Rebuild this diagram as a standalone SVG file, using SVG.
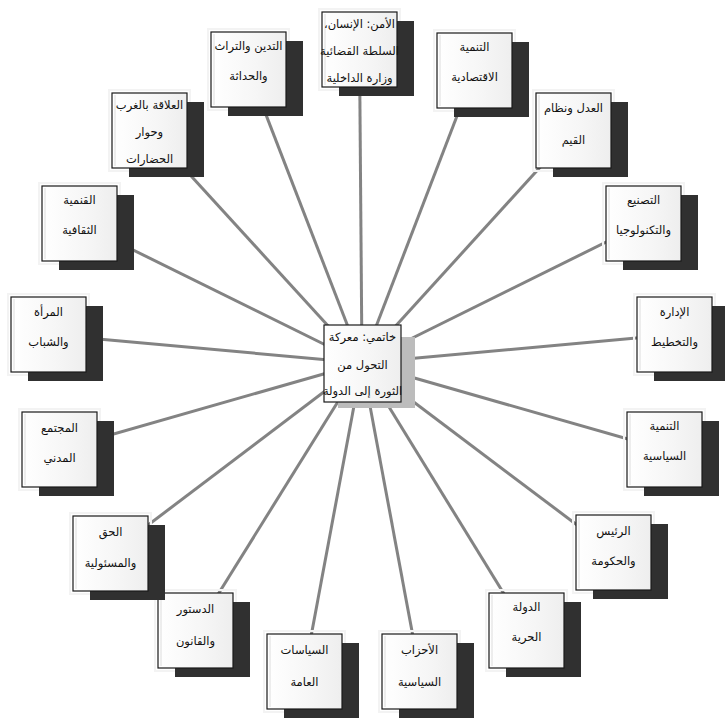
<svg xmlns="http://www.w3.org/2000/svg" width="725" height="718" viewBox="0 0 725 718">
<defs>
<linearGradient id="boxfill" x1="0" y1="0" x2="1" y2="0">
<stop offset="0" stop-color="#ffffff"/>
<stop offset="0.6" stop-color="#f6f6f6"/>
<stop offset="1" stop-color="#eeeeee"/>
</linearGradient>
<style>
.bg{fill:#ffffff}
.conn line{stroke:#838383;stroke-width:3;stroke-linecap:butt}
.glow{fill:none;stroke:#f3f3f3;stroke-width:2}
.shadow{fill:#303030}
.box{fill:url(#boxfill);stroke:#1a1a1a;stroke-width:1.2}
.inner{fill:none;stroke:#dcdcdc;stroke-width:1}
.cshadow{fill:#bcbcbc}
text{font-family:"DejaVu Sans","Noto Sans",sans-serif;font-size:11.5px;fill:#111;text-anchor:middle;direction:rtl;unicode-bidi:embed}
</style>
</defs>
<rect class="bg" x="0" y="0" width="725" height="718"/>
<g id="connectors" class="conn">
<line x1="362" y1="363" x2="149.5" y2="130.5"/>
<line x1="362" y1="363" x2="248.5" y2="69.5"/>
<line x1="362" y1="363" x2="359.5" y2="49.5"/>
<line x1="362" y1="363" x2="474.5" y2="70.5"/>
<line x1="362" y1="363" x2="573.5" y2="130.5"/>
<line x1="362" y1="363" x2="643.5" y2="223.5"/>
<line x1="362" y1="363" x2="674.5" y2="334.5"/>
<line x1="362" y1="363" x2="664.5" y2="449.5"/>
<line x1="362" y1="363" x2="613.5" y2="552.5"/>
<line x1="362" y1="363" x2="526.5" y2="630.5"/>
<line x1="362" y1="363" x2="419.5" y2="671.5"/>
<line x1="362" y1="363" x2="304.5" y2="671.5"/>
<line x1="362" y1="363" x2="195.5" y2="630.5"/>
<line x1="362" y1="363" x2="110.5" y2="553.5"/>
<line x1="362" y1="363" x2="59.5" y2="449.5"/>
<line x1="362" y1="363" x2="48.5" y2="334.5"/>
<line x1="362" y1="363" x2="79.5" y2="223.5"/>
</g>

<g id="n1" transform="translate(112,93)">
<rect class="glow" x="-3" y="-3" width="81" height="81"/>
<rect class="shadow" x="17" y="9" width="75" height="75"/>
<rect class="box" x="0" y="0" width="75" height="75"/>
<line class="inner" x1="3" y1="2" x2="3" y2="73"/>
<text x="37.5" y="16">العلاقة بالغرب</text>
<text x="37.5" y="43">وحوار</text>
<text x="37.5" y="70">الحضارات</text>
</g>
<g id="n2" transform="translate(211,32)">
<rect class="glow" x="-3" y="-3" width="81" height="81"/>
<rect class="shadow" x="17" y="9" width="75" height="75"/>
<rect class="box" x="0" y="0" width="75" height="75"/>
<line class="inner" x1="3" y1="2" x2="3" y2="73"/>
<text x="37.5" y="18">التدين والتراث</text>
<text x="37.5" y="48">والحداثة</text>
</g>
<g id="n3" transform="translate(322,12)">
<rect class="glow" x="-3" y="-3" width="81" height="81"/>
<rect class="shadow" x="17" y="9" width="75" height="75"/>
<rect class="box" x="0" y="0" width="75" height="75"/>
<line class="inner" x1="3" y1="2" x2="3" y2="73"/>
<text x="37.5" y="16">الأمن: الإنسان،</text>
<text x="37.5" y="43">السلطة القضائية</text>
<text x="37.5" y="70">وزارة الداخلية</text>
</g>
<g id="n4" transform="translate(437,33)">
<rect class="glow" x="-3" y="-3" width="81" height="81"/>
<rect class="shadow" x="17" y="9" width="75" height="75"/>
<rect class="box" x="0" y="0" width="75" height="75"/>
<line class="inner" x1="3" y1="2" x2="3" y2="73"/>
<text x="37.5" y="18">التنمية</text>
<text x="37.5" y="48">الاقتصادية</text>
</g>
<g id="n5" transform="translate(536,93)">
<rect class="glow" x="-3" y="-3" width="81" height="81"/>
<rect class="shadow" x="17" y="9" width="75" height="75"/>
<rect class="box" x="0" y="0" width="75" height="75"/>
<line class="inner" x1="3" y1="2" x2="3" y2="73"/>
<text x="37.5" y="19">العدل ونظام</text>
<text x="37.5" y="51">القيم</text>
</g>
<g id="n6" transform="translate(606,186)">
<rect class="glow" x="-3" y="-3" width="81" height="81"/>
<rect class="shadow" x="17" y="9" width="75" height="75"/>
<rect class="box" x="0" y="0" width="75" height="75"/>
<line class="inner" x1="3" y1="2" x2="3" y2="73"/>
<text x="37.5" y="18">التصنيع</text>
<text x="37.5" y="48">والتكنولوجيا</text>
</g>
<g id="n7" transform="translate(637,297)">
<rect class="glow" x="-3" y="-3" width="81" height="81"/>
<rect class="shadow" x="17" y="9" width="75" height="75"/>
<rect class="box" x="0" y="0" width="75" height="75"/>
<line class="inner" x1="3" y1="2" x2="3" y2="73"/>
<text x="37.5" y="19">الإدارة</text>
<text x="37.5" y="49">والتخطيط</text>
</g>
<g id="n8" transform="translate(627,412)">
<rect class="glow" x="-3" y="-3" width="81" height="81"/>
<rect class="shadow" x="17" y="9" width="75" height="75"/>
<rect class="box" x="0" y="0" width="75" height="75"/>
<line class="inner" x1="3" y1="2" x2="3" y2="73"/>
<text x="37.5" y="18">التنمية</text>
<text x="37.5" y="48">السياسية</text>
</g>
<g id="n9" transform="translate(576,515)">
<rect class="glow" x="-3" y="-3" width="81" height="81"/>
<rect class="shadow" x="17" y="9" width="75" height="75"/>
<rect class="box" x="0" y="0" width="75" height="75"/>
<line class="inner" x1="3" y1="2" x2="3" y2="73"/>
<text x="37.5" y="20">الرئيس</text>
<text x="37.5" y="50">والحكومة</text>
</g>
<g id="n10" transform="translate(489,593)">
<rect class="glow" x="-3" y="-3" width="81" height="81"/>
<rect class="shadow" x="17" y="9" width="75" height="75"/>
<rect class="box" x="0" y="0" width="75" height="75"/>
<line class="inner" x1="3" y1="2" x2="3" y2="73"/>
<text x="37.5" y="18">الدولة</text>
<text x="37.5" y="48">الحرية</text>
</g>
<g id="n11" transform="translate(382,634)">
<rect class="glow" x="-3" y="-3" width="81" height="81"/>
<rect class="shadow" x="17" y="9" width="75" height="75"/>
<rect class="box" x="0" y="0" width="75" height="75"/>
<line class="inner" x1="3" y1="2" x2="3" y2="73"/>
<text x="37.5" y="20">الأحزاب</text>
<text x="37.5" y="52">السياسية</text>
</g>
<g id="n12" transform="translate(267,634)">
<rect class="glow" x="-3" y="-3" width="81" height="81"/>
<rect class="shadow" x="17" y="9" width="75" height="75"/>
<rect class="box" x="0" y="0" width="75" height="75"/>
<line class="inner" x1="3" y1="2" x2="3" y2="73"/>
<text x="37.5" y="20">السياسات</text>
<text x="37.5" y="52">العامة</text>
</g>
<g id="n13" transform="translate(158,593)">
<rect class="glow" x="-3" y="-3" width="81" height="81"/>
<rect class="shadow" x="17" y="9" width="75" height="75"/>
<rect class="box" x="0" y="0" width="75" height="75"/>
<line class="inner" x1="3" y1="2" x2="3" y2="73"/>
<text x="37.5" y="20">الدستور</text>
<text x="37.5" y="52">والقانون</text>
</g>
<g id="n14" transform="translate(73,516)">
<rect class="glow" x="-3" y="-3" width="81" height="81"/>
<rect class="shadow" x="17" y="9" width="75" height="75"/>
<rect class="box" x="0" y="0" width="75" height="75"/>
<line class="inner" x1="3" y1="2" x2="3" y2="73"/>
<text x="37.5" y="20">الحق</text>
<text x="37.5" y="51">والمسئولية</text>
</g>
<g id="n15" transform="translate(22,412)">
<rect class="glow" x="-3" y="-3" width="81" height="81"/>
<rect class="shadow" x="17" y="9" width="75" height="75"/>
<rect class="box" x="0" y="0" width="75" height="75"/>
<line class="inner" x1="3" y1="2" x2="3" y2="73"/>
<text x="37.5" y="20">المجتمع</text>
<text x="37.5" y="50">المدني</text>
</g>
<g id="n16" transform="translate(11,297)">
<rect class="glow" x="-3" y="-3" width="81" height="81"/>
<rect class="shadow" x="17" y="9" width="75" height="75"/>
<rect class="box" x="0" y="0" width="75" height="75"/>
<line class="inner" x1="3" y1="2" x2="3" y2="73"/>
<text x="37.5" y="19">المرأة</text>
<text x="37.5" y="49">والشباب</text>
</g>
<g id="n17" transform="translate(42,186)">
<rect class="glow" x="-3" y="-3" width="81" height="81"/>
<rect class="shadow" x="17" y="9" width="75" height="75"/>
<rect class="box" x="0" y="0" width="75" height="75"/>
<line class="inner" x1="3" y1="2" x2="3" y2="73"/>
<text x="37.5" y="18">القنمية</text>
<text x="37.5" y="48">الثقافية</text>
</g>

<g id="center" transform="translate(324,325)">
<rect class="cshadow" x="14" y="12" width="77" height="71"/>
<rect class="box" x="0" y="0" width="77" height="77"/>
<text x="38.5" y="16">خاتمي: معركة</text>
<text x="38.5" y="44">التحول من</text>
<text x="38.5" y="70">الثورة إلى الدولة</text>
</g>
</svg>
